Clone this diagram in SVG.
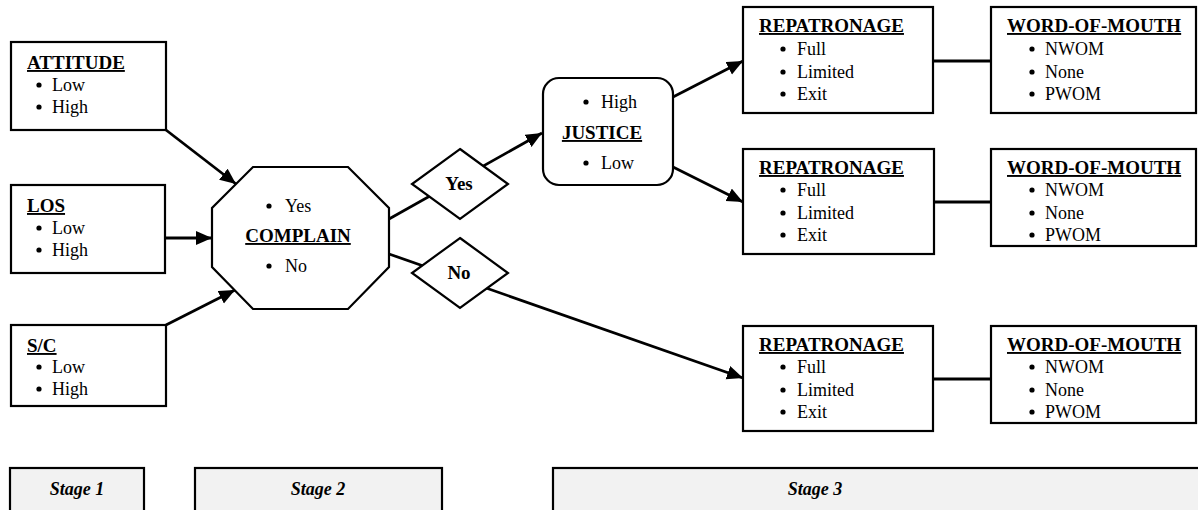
<svg xmlns="http://www.w3.org/2000/svg" width="1198" height="510" viewBox="0 0 1198 510">
<style>
text{font-family:"Liberation Serif","Times New Roman",serif;font-size:18px;fill:#000}
.h{font-weight:bold;text-decoration:underline;font-size:19px}
.b{font-weight:bold;font-size:19px}
.st{font-weight:bold;font-style:italic;text-anchor:middle}
.box{fill:#fff;stroke:#000;stroke-width:2.2}
.stage{fill:#f2f2f2;stroke:#000;stroke-width:2.2}
.con{stroke:#000;stroke-width:2.8;fill:none}
.arr{marker-end:url(#ah)}
.dot{fill:#000}
</style>
<defs>
<marker id="ah" markerUnits="userSpaceOnUse" markerWidth="17" markerHeight="15" refX="16" refY="7" orient="auto">
<path d="M0,0 L16,7 L0,14 z" fill="#000"/>
</marker>
</defs>
<g id="connectors">
<line class="con arr" x1="166" y1="130" x2="236" y2="184"/>
<line class="con arr" x1="165" y1="238" x2="212" y2="238"/>
<line class="con arr" x1="166" y1="325" x2="235" y2="290"/>
<line class="con arr" x1="389" y1="219" x2="542" y2="133"/>
<line class="con arr" x1="389" y1="254" x2="743" y2="378"/>
<line class="con arr" x1="673" y1="97" x2="743" y2="61"/>
<line class="con arr" x1="673" y1="167" x2="743" y2="202"/>
<line class="con" x1="933" y1="61" x2="991" y2="61" stroke-width="2.2"/>
<line class="con" x1="933" y1="202" x2="991" y2="202" stroke-width="2.2"/>
<line class="con" x1="933" y1="379" x2="991" y2="379" stroke-width="2.2"/>
</g>
<g id="attitude">
<rect class="box" x="11" y="42" width="155" height="88"/>
<text class="h" x="27" y="69">ATTITUDE</text>
<circle class="dot" cx="39" cy="85" r="2.6"/><text x="52" y="91">Low</text>
<circle class="dot" cx="39" cy="107" r="2.6"/><text x="52" y="113">High</text>
</g>
<g id="los">
<rect class="box" x="11" y="185" width="154" height="88"/>
<text class="h" x="27" y="212">LOS</text>
<circle class="dot" cx="39" cy="228" r="2.6"/><text x="52" y="234">Low</text>
<circle class="dot" cx="39" cy="250" r="2.6"/><text x="52" y="256">High</text>
</g>
<g id="sc">
<rect class="box" x="11" y="325" width="155" height="81"/>
<text class="h" x="27" y="352">S/C</text>
<circle class="dot" cx="39" cy="367" r="2.6"/><text x="52" y="373">Low</text>
<circle class="dot" cx="39" cy="389" r="2.6"/><text x="52" y="395">High</text>
</g>
<g id="complain">
<polygon class="box" stroke-width="2.5" points="253,167 348,167 389,208 389,267 348,309 253,309 212,267 212,208"/>
<circle class="dot" cx="269" cy="206" r="2.6"/><text x="285" y="212">Yes</text>
<text class="h" x="298" y="242" text-anchor="middle">COMPLAIN</text>
<circle class="dot" cx="269" cy="266" r="2.6"/><text x="285" y="272">No</text>
</g>
<g id="yes">
<polygon class="box" points="460,149 508,184 460,219 412,184"/>
<text class="b" x="459" y="190" text-anchor="middle">Yes</text>
</g>
<g id="no">
<polygon class="box" points="460,238 508,273 460,308 412,273"/>
<text class="b" x="459" y="279" text-anchor="middle">No</text>
</g>
<g id="justice">
<rect class="box" x="543" y="78" width="130" height="107" rx="16" ry="16"/>
<circle class="dot" cx="586" cy="102" r="2.6"/><text x="601" y="108">High</text>
<text class="h" x="602" y="139" text-anchor="middle">JUSTICE</text>
<circle class="dot" cx="586" cy="163" r="2.6"/><text x="601" y="169">Low</text>
</g>
<g id="rep1">
<rect class="box" x="743" y="7" width="190" height="106"/>
<text class="h" x="759" y="32">REPATRONAGE</text>
<circle class="dot" cx="783" cy="49" r="2.6"/><text x="797" y="55">Full</text>
<circle class="dot" cx="783" cy="72" r="2.6"/><text x="797" y="78">Limited</text>
<circle class="dot" cx="783" cy="94" r="2.6"/><text x="797" y="100">Exit</text>
</g>
<g id="wom1">
<rect class="box" x="991" y="7" width="205" height="106"/>
<text class="h" x="1007" y="32">WORD-OF-MOUTH</text>
<circle class="dot" cx="1032" cy="49" r="2.6"/><text x="1045" y="55">NWOM</text>
<circle class="dot" cx="1032" cy="72" r="2.6"/><text x="1045" y="78">None</text>
<circle class="dot" cx="1032" cy="94" r="2.6"/><text x="1045" y="100">PWOM</text>
</g>
<g id="rep2">
<rect class="box" x="743" y="149" width="191" height="105"/>
<text class="h" x="759" y="174">REPATRONAGE</text>
<circle class="dot" cx="783" cy="190" r="2.6"/><text x="797" y="196">Full</text>
<circle class="dot" cx="783" cy="213" r="2.6"/><text x="797" y="219">Limited</text>
<circle class="dot" cx="783" cy="235" r="2.6"/><text x="797" y="241">Exit</text>
</g>
<g id="wom2">
<rect class="box" x="991" y="149" width="205" height="97"/>
<text class="h" x="1007" y="174">WORD-OF-MOUTH</text>
<circle class="dot" cx="1032" cy="190" r="2.6"/><text x="1045" y="196">NWOM</text>
<circle class="dot" cx="1032" cy="213" r="2.6"/><text x="1045" y="219">None</text>
<circle class="dot" cx="1032" cy="235" r="2.6"/><text x="1045" y="241">PWOM</text>
</g>
<g id="rep3">
<rect class="box" x="743" y="326" width="190" height="105"/>
<text class="h" x="759" y="351">REPATRONAGE</text>
<circle class="dot" cx="783" cy="367" r="2.6"/><text x="797" y="373">Full</text>
<circle class="dot" cx="783" cy="390" r="2.6"/><text x="797" y="396">Limited</text>
<circle class="dot" cx="783" cy="412" r="2.6"/><text x="797" y="418">Exit</text>
</g>
<g id="wom3">
<rect class="box" x="991" y="326" width="205" height="97"/>
<text class="h" x="1007" y="351">WORD-OF-MOUTH</text>
<circle class="dot" cx="1032" cy="367" r="2.6"/><text x="1045" y="373">NWOM</text>
<circle class="dot" cx="1032" cy="390" r="2.6"/><text x="1045" y="396">None</text>
<circle class="dot" cx="1032" cy="412" r="2.6"/><text x="1045" y="418">PWOM</text>
</g>
<g id="stage1">
<rect class="stage" x="10" y="468" width="134" height="46"/>
<text class="st" x="77" y="495">Stage 1</text>
</g>
<g id="stage2">
<rect class="stage" x="195" y="468" width="247" height="46"/>
<text class="st" x="318" y="495">Stage 2</text>
</g>
<g id="stage3">
<rect class="stage" x="553" y="468" width="650" height="46"/>
<text class="st" x="815" y="495">Stage 3</text>
</g>
</svg>
